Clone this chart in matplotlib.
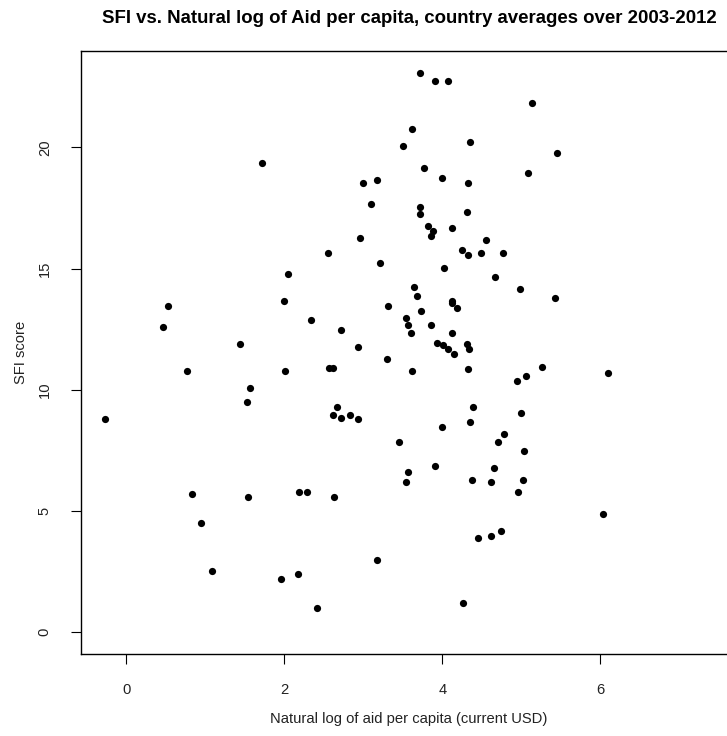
import matplotlib
matplotlib.use('Agg')
import matplotlib.pyplot as plt

plt.rcParams['font.family'] = ['Liberation Sans', 'DejaVu Sans']

# country averages: log aid per capita vs SFI score
log_aid = [3.71, 3.905, 4.066, 5.137, 3.614, 3.50, 4.344, 5.45, 1.715, 3.77,
           4.00, 4.33, 5.086, 3.00, 3.175, 3.09, 3.72, 3.71, 4.306, 3.82,
           3.88, 3.86, 4.12, 4.55, 2.956, 4.243, 4.33, 4.487, 4.77, 2.55,
           3.21, 4.015, 2.04, 4.66, 3.635, 4.977, 3.673, 5.424, 1.99, 4.124,
           4.124, 4.187, 0.52, 3.31, 3.724, 3.54, 0.46, 2.33, 3.57, 3.86,
           2.715, 3.60, 4.124, 1.437, 2.93, 3.934, 4.01, 4.074, 4.15, 4.306,
           4.34, 3.30, 5.256, 4.32, 3.62, 0.76, 2.006, 2.56, 2.62, 6.095,
           5.06, 4.947, 1.56, 1.52, 4.39, 2.66, 5.00, 2.61, 2.825, 2.72,
           2.93, -0.272, 4.35, 3.99, 4.78, 4.706, 3.45, 5.036, 3.905, 4.65,
           3.567, 3.54, 4.377, 4.62, 5.02, 4.96, 2.19, 2.29, 0.83, 1.54,
           2.627, 6.03, 0.947, 4.745, 4.61, 4.45, 3.175, 1.08, 2.175, 1.956,
           4.256, 2.41]
sfi = [23.05, 22.73, 22.73, 21.81, 20.75, 20.04, 20.23, 19.75, 19.37, 19.13,
       18.73, 18.53, 18.93, 18.53, 18.65, 17.66, 17.55, 17.26, 17.34, 16.77,
       16.56, 16.35, 16.66, 16.16, 16.27, 15.76, 15.56, 15.64, 15.64, 15.64,
       15.24, 15.04, 14.76, 14.65, 14.25, 14.17, 13.86, 13.77, 13.66, 13.66,
       13.58, 13.37, 13.47, 13.46, 13.26, 12.97, 12.59, 12.87, 12.67, 12.67,
       12.47, 12.35, 12.35, 11.88, 11.77, 11.94, 11.85, 11.67, 11.46, 11.88,
       11.67, 11.27, 10.95, 10.87, 10.76, 10.76, 10.76, 10.88, 10.88, 10.68,
       10.57, 10.36, 10.09, 9.48, 9.29, 9.29, 9.06, 8.97, 8.97, 8.85,
       8.78, 8.78, 8.66, 8.45, 8.18, 7.86, 7.86, 7.46, 6.87, 6.79,
       6.60, 6.20, 6.28, 6.20, 6.28, 5.80, 5.80, 5.80, 5.69, 5.57,
       5.57, 4.89, 4.49, 4.18, 3.98, 3.89, 2.99, 2.51, 2.39, 2.20,
       1.20, 1.01]

x_ticks = [0, 2, 4, 6]
y_ticks = [0, 5, 10, 15, 20]

fig = plt.figure(figsize=(7.27, 7.36), dpi=100)
# plot box runs a little past the right edge of the image
ax = fig.add_axes([81 / 727, 1 - 654 / 736, 656 / 727, 603 / 736])

ax.plot(log_aid, sfi, 'o', color='black', markersize=5.2, markeredgewidth=0)

ax.set_xlim(-0.576, 7.73)
ax.set_ylim(-0.895, 23.97)
ax.set_xticks(x_ticks)
ax.set_yticks(y_ticks)
ax.set_yticklabels([str(v) for v in y_ticks], rotation=90, va='center')

for s in ax.spines.values():
    s.set_linewidth(1.0)
    s.set_color('black')
ax.tick_params(direction='out', length=7, width=0.8, labelsize=10.6,
               labelcolor='#222222', pad=14)

ax.set_xlabel('Natural log of aid per capita (current USD)', fontsize=10.6,
              color='#222222', labelpad=11)
ax.set_ylabel('SFI score', fontsize=10.6, color='#222222', labelpad=7)
ax.set_title('SFI vs. Natural log of Aid per capita, country averages over 2003-2012',
             fontsize=13.4, fontweight='bold', pad=20)

fig.savefig('out.png', dpi=100)
